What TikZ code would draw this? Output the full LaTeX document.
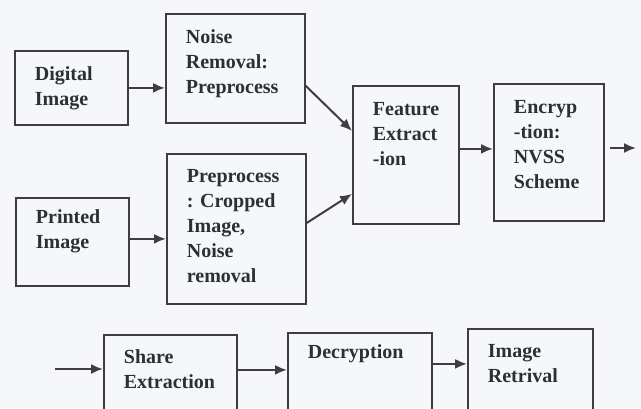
\documentclass[tikz,border=0pt]{standalone}
\usepackage{fontspec}
\setmainfont{Liberation Serif}
\newfontfamily\diagfont{Liberation Serif}
\usepackage{xcolor}
\usepackage{tikz}
\usetikzlibrary{arrows.meta, calc}
\definecolor{cPaper}{RGB}{246,247,249}
\definecolor{cLine}{RGB}{62,62,64}
\definecolor{cText}{RGB}{45,48,50}
\hyphenpenalty=10000
\exhyphenpenalty=10000
\hfuzz=40pt

\begin{document}
\begin{tikzpicture}[x=0.5pt, y=-0.5pt,
	font=\diagfont\bfseries\fontsize{10}{12.5}\selectfont,
	blk/.style={draw=cLine, line width=0.9pt, text=cText, anchor=north west, align=left, inner xsep=10pt, inner ysep=0pt},
	arr/.style={draw=cLine, line width=1pt, -{Latex[length=6pt,width=5pt]}}]
	\clip (0,0) rectangle (641,408);
	\fill[cPaper] (0,0) rectangle (641,408);
	\foreach \n/\x/\y/\w/\h/\d/\l in {dig/14/50/36.5/15/22/{Digital\\Image}, nr/165/13/49.5/15/39.5/{Noise\\Removal:\\Preprocess}, pr/15/197/36.5/13/31/{Printed\\Image}, pp/166/153/49.5/14.5/60.5/{Preprocess\\:~Cropped\\Image,\\Noise\\removal}, fe/352/85/33/15/54/{Feature\\Extract\\-ion}, en/493/83/35/15/53.5/{Encryp\\-tion:\\NVSS\\Scheme}, sh/103/334/46.5/14.5/43.5/{Share\\Extraction}, de/287/332/52/13/46/{Decryption}, ir/467/328/42.5/14.5/46.5/{Image\\Retrival}} {
		\node[blk, text width=\w pt, text height=\h pt, text depth=\d pt] (\n) at (\x,\y) {\l};
	}
	\coordinate (out) at (636,148);
	\coordinate (in) at (55,369);
	\draw[arr] (dig.east) -- (dig.east -| nr.west);
	\draw[arr] ([yshift=1.5pt]pr.east) -- ([yshift=1.5pt]pr.east -| pp.west);
	\draw[arr] ([yshift=-8.75pt]nr.east) -- ([yshift=12pt]fe.west);
	\draw[arr] ([yshift=3pt]pp.east) -- ([yshift=-19.5pt]fe.west);
	\draw[arr] ([yshift=3pt]fe.east) -- ([yshift=3pt]fe.east -| en.west);
	\draw[arr, shorten <=2.5pt] (en.east |- out) -- (out);
	\draw[arr] (in) -- (in -| sh.west);
	\draw[arr] ([yshift=11.5pt]sh.east) -- ([yshift=11.5pt]sh.east -| de.west);
	\draw[arr] ([yshift=14pt]de.east) -- ([yshift=14pt]de.east -| ir.west);
\end{tikzpicture}
\end{document}
